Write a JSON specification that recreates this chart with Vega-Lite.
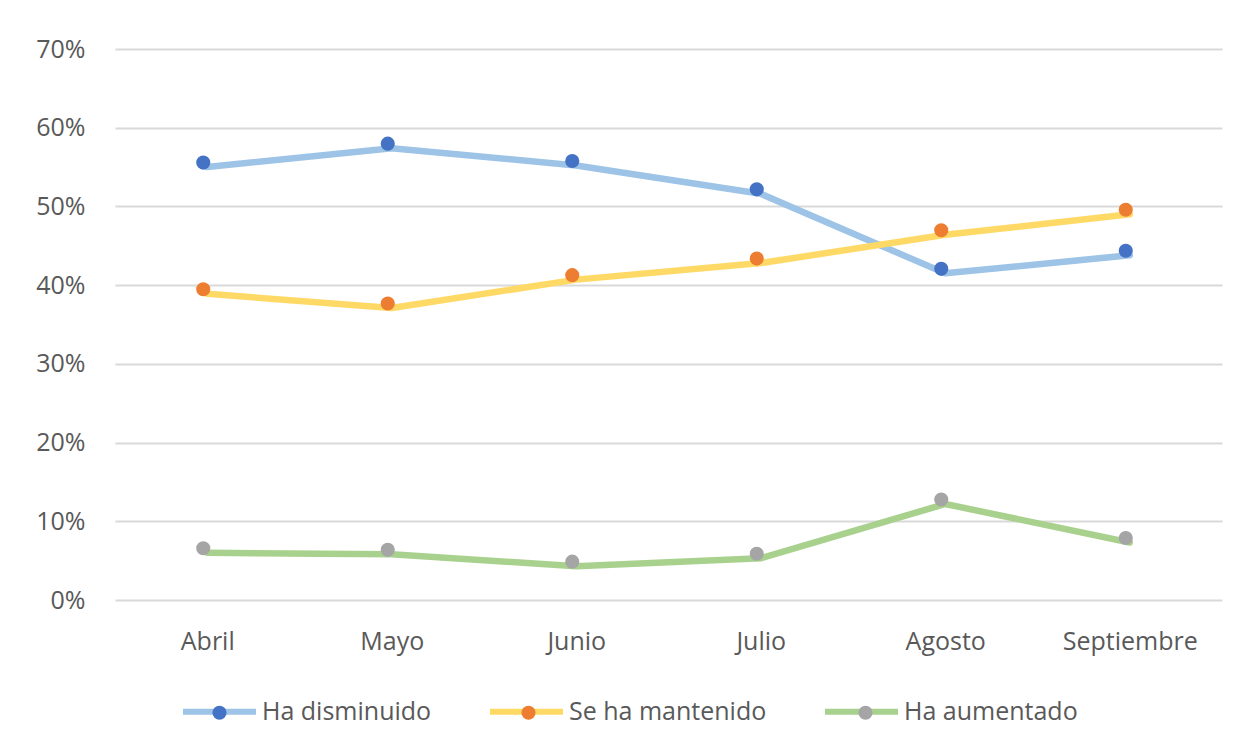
{
  "$schema": "https://vega.github.io/schema/vega-lite/v6.json",
  "width": 1107,
  "height": 551,
  "autosize": "none",
  "padding": {"left": 115, "top": 49, "right": 22, "bottom": 154},
  "background": "white",
  "config": {"view": {"stroke": null}, "font": "Open Sans"},
  "data": {
    "values": [
      {"mes": "Abril", "serie": "Ha disminuido", "valor": 0.550},
      {"mes": "Mayo", "serie": "Ha disminuido", "valor": 0.574},
      {"mes": "Junio", "serie": "Ha disminuido", "valor": 0.552},
      {"mes": "Julio", "serie": "Ha disminuido", "valor": 0.516},
      {"mes": "Agosto", "serie": "Ha disminuido", "valor": 0.415},
      {"mes": "Septiembre", "serie": "Ha disminuido", "valor": 0.438},
      {"mes": "Abril", "serie": "Se ha mantenido", "valor": 0.389},
      {"mes": "Mayo", "serie": "Se ha mantenido", "valor": 0.371},
      {"mes": "Junio", "serie": "Se ha mantenido", "valor": 0.407},
      {"mes": "Julio", "serie": "Se ha mantenido", "valor": 0.428},
      {"mes": "Agosto", "serie": "Se ha mantenido", "valor": 0.464},
      {"mes": "Septiembre", "serie": "Se ha mantenido", "valor": 0.490},
      {"mes": "Abril", "serie": "Ha aumentado", "valor": 0.060},
      {"mes": "Mayo", "serie": "Ha aumentado", "valor": 0.058},
      {"mes": "Junio", "serie": "Ha aumentado", "valor": 0.043},
      {"mes": "Julio", "serie": "Ha aumentado", "valor": 0.053},
      {"mes": "Agosto", "serie": "Ha aumentado", "valor": 0.122},
      {"mes": "Septiembre", "serie": "Ha aumentado", "valor": 0.073}
    ]
  },
  "encoding": {
    "x": {
      "field": "mes",
      "type": "ordinal",
      "sort": ["Abril", "Mayo", "Junio", "Julio", "Agosto", "Septiembre"],
      "scale": {"type": "point", "padding": 0.5},
      "axis": {
        "title": null,
        "domain": false,
        "ticks": false,
        "grid": false,
        "labelAngle": 0,
        "labelFont": "Open Sans",
        "labelFontSize": 25,
        "labelColor": "#595959",
        "labelPadding": 29
      }
    },
    "y": {
      "field": "valor",
      "type": "quantitative",
      "scale": {"domain": [0, 0.7]},
      "axis": {
        "title": null,
        "format": ".0%",
        "values": [0, 0.1, 0.2, 0.3, 0.4, 0.5, 0.6, 0.7],
        "domain": false,
        "ticks": false,
        "gridColor": "#d9d9d9",
        "gridWidth": 2,
        "labelFont": "Open Sans",
        "labelFontSize": 25,
        "labelColor": "#595959",
        "labelPadding": 30
      }
    }
  },
  "layer": [
    {
      "mark": {"type": "line", "strokeWidth": 6.5, "strokeCap": "round", "strokeJoin": "round"},
      "encoding": {
        "color": {
          "field": "serie",
          "type": "nominal",
          "scale": {
            "domain": ["Ha disminuido", "Se ha mantenido", "Ha aumentado"],
            "range": ["#9DC3E6", "#FFD966", "#A9D18E"]
          },
          "legend": {
            "orient": "none",
            "legendX": 65,
            "legendY": 623,
            "direction": "horizontal",
            "title": null,
            "symbolType": "stroke",
            "symbolSize": 5329,
            "symbolStrokeWidth": 6,
            "labelFont": "Open Sans",
            "labelFontSize": 25,
            "labelColor": "#595959",
            "labelLimit": 400,
            "labelOffset": 3,
            "columnPadding": 46
          }
        }
      }
    },
    {
      "mark": {"type": "point", "filled": true, "size": 200, "opacity": 1, "strokeWidth": 0, "xOffset": -4, "yOffset": -4.5},
      "encoding": {
        "fill": {
          "field": "serie",
          "type": "nominal",
          "sort": ["Ha disminuido", "Se ha mantenido", "Ha aumentado"],
          "scale": {"range": ["#4472C4", "#ED7D31", "#A5A5A5"]},
          "legend": {
            "orient": "none",
            "legendX": 92,
            "legendY": 651,
            "direction": "horizontal",
            "title": null,
            "symbolType": "circle",
            "symbolSize": 200,
            "symbolStrokeWidth": 0,
            "symbolOpacity": 1,
            "labelFont": "Open Sans",
            "labelFontSize": 25,
            "labelColor": "#595959",
            "labelLimit": 400,
            "labelOpacity": 0,
            "labelOffset": 68,
            "columnPadding": 46
          }
        }
      }
    }
  ]
}
